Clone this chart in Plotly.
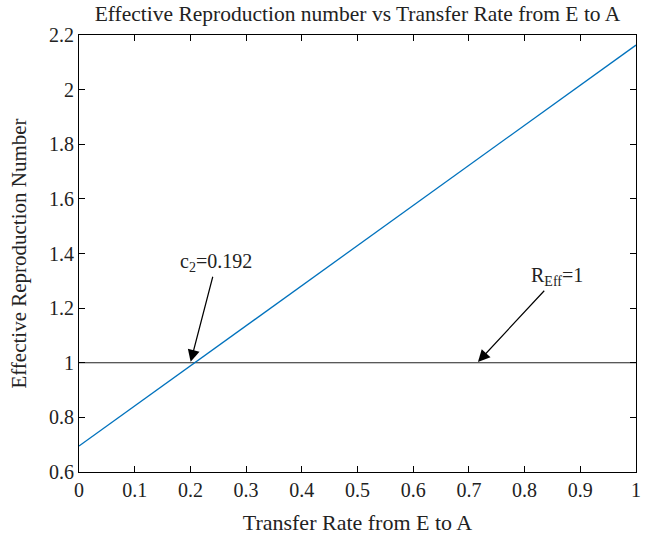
import plotly.graph_objects as go

# Data
transfer_rate = [0.0, 1.0]
r_eff = [0.695, 2.163]
threshold_x = [0.0, 1.0]
threshold_y = [1.0, 1.0]

x_ticks = [0, 0.1, 0.2, 0.3, 0.4, 0.5, 0.6, 0.7, 0.8, 0.9, 1]
x_tick_labels = ["0", "0.1", "0.2", "0.3", "0.4", "0.5", "0.6", "0.7", "0.8", "0.9", "1"]
y_ticks = [0.6, 0.8, 1.0, 1.2, 1.4, 1.6, 1.8, 2.0, 2.2]
y_tick_labels = ["0.6", "0.8", "1", "1.2", "1.4", "1.6", "1.8", "2", "2.2"]

c2_point = (0.2, 1.0)
reff_point = (0.715, 1.0)

FONT = "Liberation Serif"

fig = go.Figure()
fig.add_trace(go.Scatter(x=threshold_x, y=threshold_y, mode="lines",
                         line=dict(color="#222222", width=1.2), showlegend=False))
fig.add_trace(go.Scatter(x=transfer_rate, y=r_eff, mode="lines",
                         line=dict(color="#0072BD", width=1.3), showlegend=False))

fig.add_annotation(x=c2_point[0], y=c2_point[1], text="c<sub>2</sub>=0.192",
                   showarrow=True, arrowhead=2, arrowsize=2, arrowwidth=1.2,
                   arrowcolor="black", ax=26, ay=-100, standoff=1,
                   font=dict(family=FONT, size=20, color="#222222"))
fig.add_annotation(x=reff_point[0], y=reff_point[1], text="R<sub>Eff</sub>=1",
                   showarrow=True, arrowhead=2, arrowsize=2, arrowwidth=1.2,
                   arrowcolor="black", ax=80, ay=-86, standoff=1,
                   font=dict(family=FONT, size=20, color="#222222"))

axis_common = dict(showline=True, linecolor="black", linewidth=1.2, mirror="ticks",
                   ticks="inside", ticklen=6, tickcolor="black", tickwidth=1,
                   showgrid=False, zeroline=False, automargin=False,
                   tickfont=dict(family=FONT, size=20, color="#222222"))

fig.update_xaxes(range=[0, 1], tickvals=x_ticks, ticktext=x_tick_labels,
                 title=dict(text="Transfer Rate from E to A",
                            font=dict(family=FONT, size=22, color="#222222"), standoff=14),
                 **axis_common)
fig.update_yaxes(range=[0.6, 2.2], tickvals=y_ticks, ticktext=y_tick_labels,
                 title=dict(text="Effective Reproduction Number",
                            font=dict(family=FONT, size=21, color="#222222"), standoff=16),
                 **axis_common)

fig.update_layout(
    width=646, height=535,
    margin=dict(l=79, r=10, t=35, b=63),
    paper_bgcolor="white", plot_bgcolor="white",
    title=dict(text="Effective Reproduction number vs Transfer Rate from E to A",
               font=dict(family=FONT, size=21.5, color="#222222"),
               xref="paper", x=0.5, xanchor="center",
               yref="container", y=0.9895, yanchor="top"),
)

fig.write_html("out.html")
